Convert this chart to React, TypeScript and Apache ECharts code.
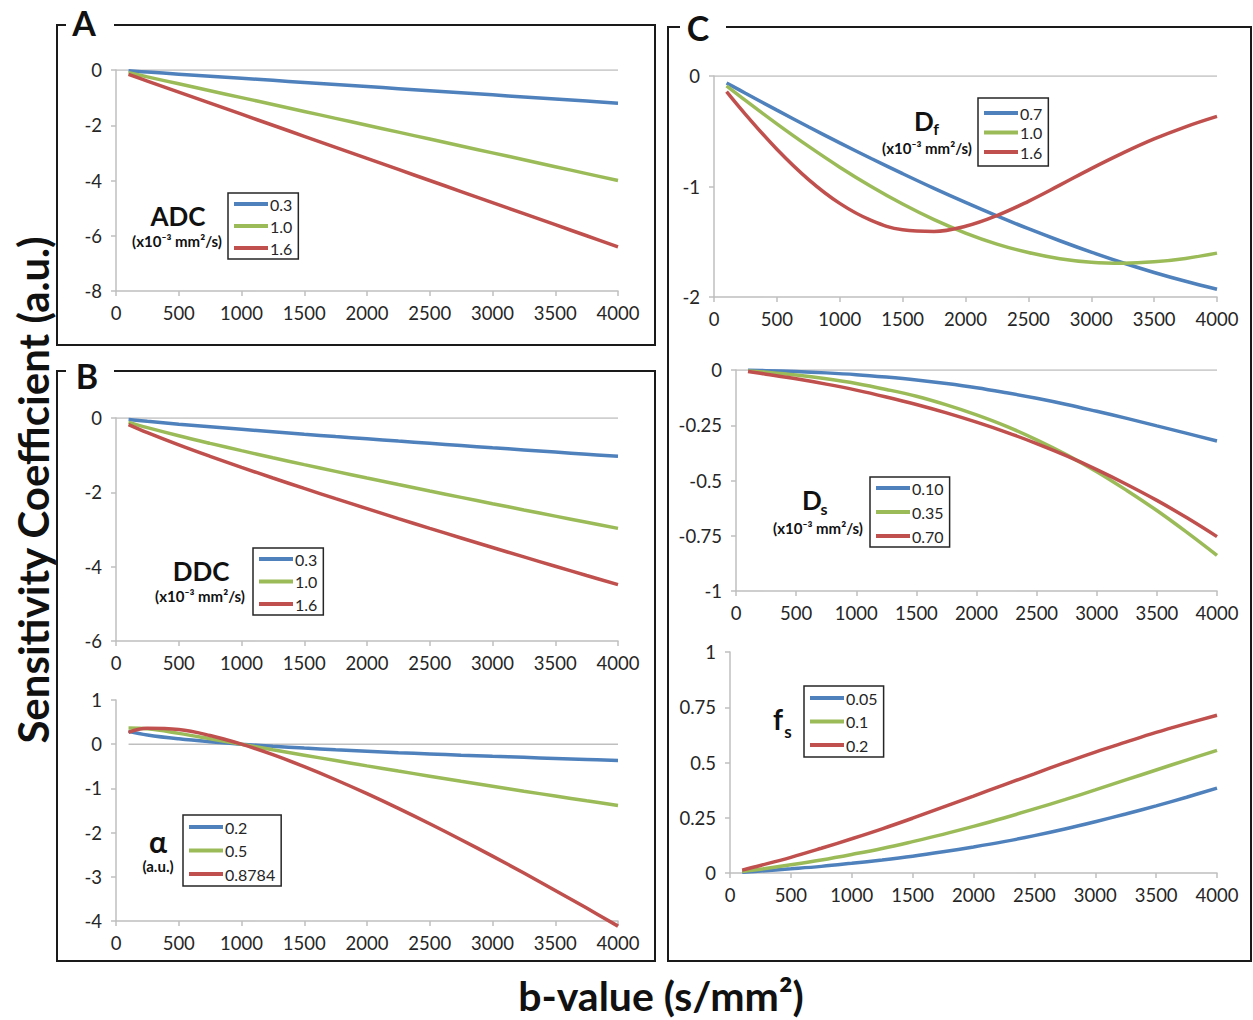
import React, { useEffect, useRef } from "react";
import * as echarts from "echarts";

// b-values (s/mm²) at which the curves are sampled
const B_VALUES = [100, 250, 500, 750, 1000, 1250, 1500, 1750, 2000, 2250, 2500, 2750, 3000, 3250, 3500, 3750, 4000];

// Panel A – ADC
const ADC_LABELS = ["0.3", "1.0", "1.6"];
const ADC_03 = [-0.03, -0.075, -0.15, -0.225, -0.3, -0.375, -0.45, -0.525, -0.6, -0.675, -0.75, -0.825, -0.9, -0.975, -1.05, -1.125, -1.2];
const ADC_10 = [-0.1, -0.25, -0.5, -0.75, -1.0, -1.25, -1.5, -1.75, -2.0, -2.25, -2.5, -2.75, -3.0, -3.25, -3.5, -3.75, -4.0];
const ADC_16 = [-0.16, -0.4, -0.8, -1.2, -1.6, -2.0, -2.4, -2.8, -3.2, -3.6, -4.0, -4.4, -4.8, -5.2, -5.6, -6.0, -6.4];

// Panel B – DDC
const DDC_LABELS = ["0.3", "1.0", "1.6"];
const DDC_03 = [-0.04, -0.09, -0.166, -0.237, -0.305, -0.371, -0.436, -0.499, -0.561, -0.622, -0.682, -0.742, -0.801, -0.859, -0.917, -0.974, -1.031];
const DDC_10 = [-0.116, -0.26, -0.478, -0.682, -0.878, -1.069, -1.254, -1.436, -1.615, -1.791, -1.965, -2.136, -2.306, -2.474, -2.64, -2.805, -2.969];
const DDC_16 = [-0.176, -0.393, -0.722, -1.031, -1.327, -1.615, -1.895, -2.17, -2.44, -2.706, -2.969, -3.228, -3.484, -3.738, -3.99, -4.239, -4.485];

// Panel B – alpha
const ALPHA_LABELS = ["0.2", "0.5", "0.8784"];
const ALPHA_02 = [0.291, 0.21, 0.121, 0.054, 0, -0.047, -0.088, -0.125, -0.159, -0.191, -0.22, -0.248, -0.274, -0.298, -0.322, -0.344, -0.366];
const ALPHA_05 = [0.364, 0.347, 0.245, 0.125, 0, -0.125, -0.248, -0.37, -0.49, -0.608, -0.724, -0.839, -0.951, -1.063, -1.172, -1.28, -1.386];
const ALPHA_08784 = [0.268, 0.36, 0.331, 0.196, 0, -0.238, -0.509, -0.804, -1.119, -1.452, -1.8, -2.161, -2.533, -2.916, -3.308, -3.708, -4.116];

// Panel C – Df
const DF_LABELS = ["0.7", "1.0", "1.6"];
const DF_07 = [-0.063, -0.156, -0.309, -0.459, -0.605, -0.747, -0.884, -1.017, -1.144, -1.266, -1.382, -1.491, -1.594, -1.69, -1.778, -1.858, -1.93];
const DF_10 = [-0.089, -0.221, -0.433, -0.635, -0.825, -1.0, -1.159, -1.3, -1.421, -1.521, -1.598, -1.653, -1.685, -1.694, -1.682, -1.651, -1.603];
const DF_16 = [-0.142, -0.347, -0.663, -0.935, -1.153, -1.307, -1.392, -1.407, -1.36, -1.263, -1.134, -0.988, -0.838, -0.698, -0.57, -0.46, -0.366];

// Panel C – Ds
const DS_LABELS = ["0.10", "0.35", "0.70"];
const DS_010 = [-0.001, -0.003, -0.007, -0.013, -0.021, -0.032, -0.045, -0.061, -0.08, -0.103, -0.128, -0.156, -0.187, -0.219, -0.253, -0.287, -0.321];
const DS_035 = [-0.004, -0.01, -0.023, -0.04, -0.061, -0.088, -0.119, -0.158, -0.203, -0.255, -0.316, -0.384, -0.46, -0.545, -0.636, -0.735, -0.839];
const DS_070 = [-0.007, -0.019, -0.04, -0.064, -0.091, -0.122, -0.156, -0.194, -0.236, -0.282, -0.333, -0.389, -0.451, -0.518, -0.59, -0.669, -0.754];

// Panel C – fs
const FS_LABELS = ["0.05", "0.1", "0.2"];
const FS_005 = [0.003, 0.009, 0.019, 0.03, 0.044, 0.059, 0.076, 0.096, 0.118, 0.142, 0.169, 0.199, 0.232, 0.267, 0.304, 0.343, 0.384];
const FS_010 = [0.007, 0.017, 0.037, 0.059, 0.084, 0.111, 0.142, 0.175, 0.211, 0.249, 0.29, 0.332, 0.376, 0.421, 0.466, 0.511, 0.555];
const FS_020 = [0.013, 0.034, 0.071, 0.112, 0.155, 0.2, 0.248, 0.298, 0.348, 0.399, 0.449, 0.499, 0.547, 0.592, 0.636, 0.676, 0.714];

const X_MIN = 0;
const X_MAX = 4000;
const X_INTERVAL = 500;

const COLORS = ["#4F81BD", "#9BBB59", "#C0504D"];
const AXIS_COLOR = "#BFBFBF";
const TEXT_COLOR = "#262626";
const FONT = "Lato, 'Open Sans', sans-serif";

type Panel = {
  key: string;
  grid: { left: number; top: number; width: number; height: number };
  y: { min: number; max: number; interval: number };
  labels: string[];
  values: number[][];
  zero: number[] | null;
  legend: { left: number; top: number; gap: number; padding: number[] };
};

const PANELS: Panel[] = [
  {
    key: "ADC",
    grid: { left: 116, top: 70, width: 502, height: 221 },
    y: { min: -8, max: 0, interval: 2 },
    labels: ADC_LABELS,
    values: [ADC_03, ADC_10, ADC_16],
    zero: [0, 4000],
    legend: { left: 228, top: 193, gap: 6, padding: [3, 6, 3, 6] },
  },
  {
    key: "DDC",
    grid: { left: 116, top: 418, width: 502, height: 223 },
    y: { min: -6, max: 0, interval: 2 },
    labels: DDC_LABELS,
    values: [DDC_03, DDC_10, DDC_16],
    zero: [0, 4000],
    legend: { left: 253, top: 548, gap: 6.5, padding: [3, 6, 3, 6] },
  },
  {
    key: "alpha",
    grid: { left: 116, top: 700, width: 502, height: 221 },
    y: { min: -4, max: 1, interval: 1 },
    labels: ALPHA_LABELS,
    values: [ALPHA_02, ALPHA_05, ALPHA_08784],
    zero: [100, 4000],
    legend: { left: 183, top: 815, gap: 7.5, padding: [4, 6, 4, 6] },
  },
  {
    key: "Df",
    grid: { left: 714, top: 76, width: 503, height: 221 },
    y: { min: -2, max: 0, interval: 1 },
    labels: DF_LABELS,
    values: [DF_07, DF_10, DF_16],
    zero: [0, 4000],
    legend: { left: 978, top: 98, gap: 3.5, padding: [7, 6, 6, 6] },
  },
  {
    key: "Ds",
    grid: { left: 736, top: 370, width: 481, height: 221 },
    y: { min: -1, max: 0, interval: 0.25 },
    labels: DS_LABELS,
    values: [DS_010, DS_035, DS_070],
    zero: [0, 4000],
    legend: { left: 870, top: 477, gap: 8, padding: [3, 6, 3, 6] },
  },
  {
    key: "fs",
    grid: { left: 730, top: 652, width: 487, height: 221 },
    y: { min: 0, max: 1, interval: 0.25 },
    labels: FS_LABELS,
    values: [FS_005, FS_010, FS_020],
    zero: null,
    legend: { left: 804, top: 686, gap: 7.5, padding: [4, 6, 4, 6] },
  },
];

function buildOption() {
  const grid: any[] = [];
  const xAxis: any[] = [];
  const yAxis: any[] = [];
  const series: any[] = [];
  const legend: any[] = [];

  PANELS.forEach((p, g) => {
    grid.push({ ...p.grid, containLabel: false, outerBoundsMode: "none" });
    xAxis.push({
      type: "value",
      gridIndex: g,
      min: X_MIN,
      max: X_MAX,
      interval: X_INTERVAL,
      axisLine: { show: true, onZero: false, lineStyle: { color: AXIS_COLOR, width: 1.5 } },
      axisTick: { show: true, length: 5, lineStyle: { color: AXIS_COLOR, width: 1.5 } },
      axisLabel: {
        fontFamily: FONT,
        fontSize: 18.5,
        color: TEXT_COLOR,
        margin: 12,
        showMinLabel: true,
        showMaxLabel: true,
        formatter: (v: number) => String(v),
      },
      splitLine: { show: false },
    });
    yAxis.push({
      type: "value",
      gridIndex: g,
      min: p.y.min,
      max: p.y.max,
      interval: p.y.interval,
      axisLine: { show: true, onZero: false, lineStyle: { color: AXIS_COLOR, width: 1.5 } },
      axisTick: { show: true, length: 5, lineStyle: { color: AXIS_COLOR, width: 1.5 } },
      axisLabel: {
        fontFamily: FONT,
        fontSize: 18.5,
        color: TEXT_COLOR,
        margin: 14,
        showMinLabel: true,
        showMaxLabel: true,
        formatter: (v: number) => String(v),
      },
      splitLine: { show: false },
    });
    if (p.zero) {
      series.push({
        type: "line",
        name: `${p.key}|zero`,
        xAxisIndex: g,
        yAxisIndex: g,
        data: [[p.zero[0], 0], [p.zero[1], 0]],
        symbol: "none",
        silent: true,
        lineStyle: { color: AXIS_COLOR, width: 1.5 },
        z: 1,
      });
    }
    const names: string[] = [];
    p.values.forEach((vals, i) => {
      const name = `${p.key}|${p.labels[i]}`;
      names.push(name);
      series.push({
        type: "line",
        name,
        xAxisIndex: g,
        yAxisIndex: g,
        data: B_VALUES.map((b, j) => [b, vals[j]]),
        smooth: 0.4,
        symbol: "none",
        clip: false,
        lineStyle: { color: COLORS[i], width: 3.5 },
        itemStyle: { color: COLORS[i] },
        z: 3,
      });
    });
    legend.push({
      data: names,
      orient: "vertical",
      left: p.legend.left,
      top: p.legend.top,
      itemGap: p.legend.gap,
      padding: p.legend.padding,
      icon: "rect",
      itemWidth: 34,
      itemHeight: 4,
      itemStyle: { borderWidth: 0 },
      selectedMode: false,
      borderColor: "#262626",
      borderWidth: 1.5,
      backgroundColor: "#ffffff",
      formatter: (n: string) => n.split("|")[1],
      textStyle: { fontFamily: FONT, fontSize: 16, color: TEXT_COLOR, lineHeight: 16, padding: [0, 0, 0, -3] },
    });
  });

  const boxStyle = { stroke: "#1a1a1a", lineWidth: 2, fill: "none" };
  const boldText = (x: number, y: number, text: string, size: number, extra: any = {}) => ({
    type: "text",
    x,
    y,
    silent: true,
    style: {
      text,
      fontFamily: FONT,
      fontWeight: "bold",
      fontSize: size,
      fill: "#111",
      textAlign: "center",
      textVerticalAlign: "middle",
      ...extra,
    },
  });
  const unit = "(x10⁻³ mm²/s)";

  const graphic: any[] = [
    // panel boxes
    { type: "polyline", silent: true, shape: { points: [[66, 25], [57, 25], [57, 345], [655, 345], [655, 25], [114, 25]] }, style: boxStyle },
    { type: "polyline", silent: true, shape: { points: [[66, 371], [57, 371], [57, 961], [655, 961], [655, 371], [114, 371]] }, style: boxStyle },
    { type: "polyline", silent: true, shape: { points: [[680, 27], [668, 27], [668, 961], [1251, 961], [1251, 27], [726, 27]] }, style: boxStyle },
    // panel letters
    boldText(84, 22, "A", 34),
    boldText(87, 375, "B", 34),
    boldText(698, 27, "C", 34),
    // parameter labels
    boldText(178, 216, "ADC", 26),
    boldText(177, 241, unit, 15),
    boldText(201, 571, "DDC", 26),
    boldText(200, 596, unit, 15),
    boldText(158, 841, "α", 30),
    boldText(158, 866, "(a.u.)", 15),
    boldText(924, 121, "D", 26),
    boldText(936, 128, "f", 16),
    boldText(927, 148, unit, 15),
    boldText(812, 500, "D", 26),
    boldText(824, 508, "s", 16),
    boldText(818, 528, unit, 15),
    boldText(778, 719, "f", 28),
    boldText(788, 731, "s", 17),
    // axis titles
    {
      type: "text",
      x: 33,
      y: 490,
      rotation: Math.PI / 2,
      silent: true,
      style: {
        text: "Sensitivity Coefficient (a.u.)",
        fontFamily: FONT,
        fontWeight: "bold",
        fontSize: 42,
        fill: "#111",
        textAlign: "center",
        textVerticalAlign: "middle",
      },
    },
    boldText(661, 995, "b-value (s/mm²)", 41),
  ];

  return {
    animation: false,
    backgroundColor: "#ffffff",
    grid,
    xAxis,
    yAxis,
    series,
    legend,
    graphic,
  };
}

export default function App() {
  const ref = useRef<HTMLDivElement>(null);
  useEffect(() => {
    document.body.style.margin = "0";
    if (!ref.current) return;
    const chart = echarts.init(ref.current, undefined, { renderer: "svg" });
    chart.setOption(buildOption() as any);
    return () => chart.dispose();
  }, []);
  return <div ref={ref} style={{ width: 1253, height: 1020 }} />;
}
